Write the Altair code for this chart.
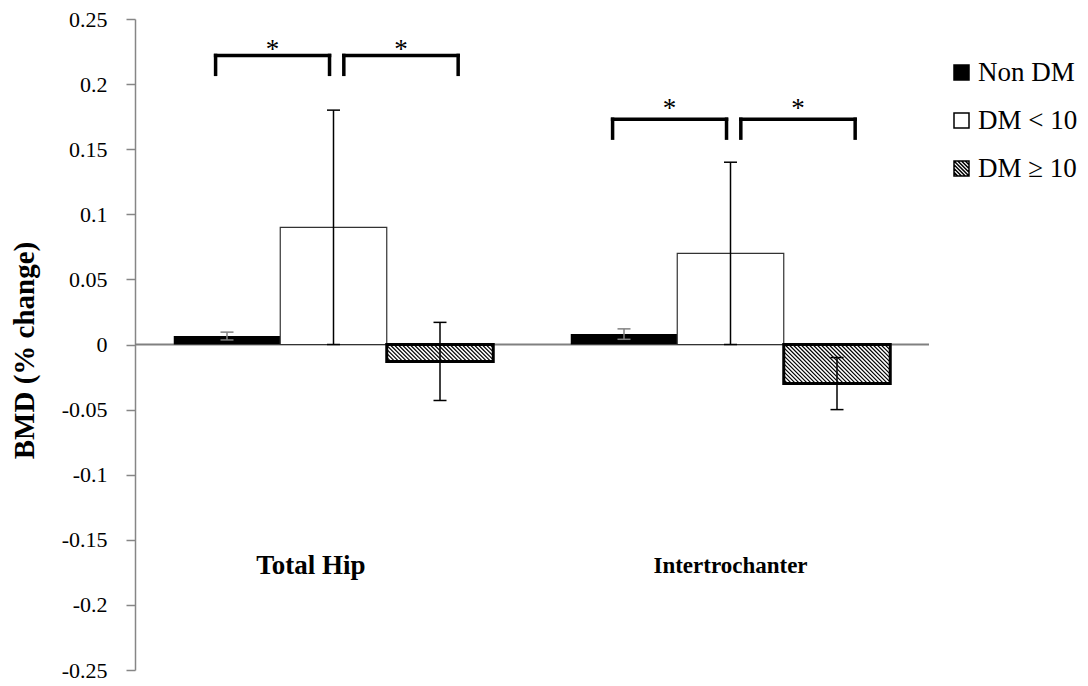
import altair as alt
import pandas as pd

# ---- data -------------------------------------------------------------
groups = ["Total Hip", "Intertrochanter"]
series = ["Non DM", "DM < 10", "DM \u2265 10"]

total_hip_mean = [0.0065, 0.090, -0.013]
total_hip_err = [0.003, 0.090, 0.030]
intertroch_mean = [0.008, 0.070, -0.030]
intertroch_err = [0.004, 0.070, 0.020]

y_ticks = [0.25, 0.2, 0.15, 0.1, 0.05, 0, -0.05, -0.1, -0.15, -0.2, -0.25]

# significance brackets: (pair of series compared), bracket height and star height per group
sig_pairs = [(0, 1), (1, 2)]
bracket_level = [0.222, 0.173]
star_level = [0.231, 0.1855]

# ---- layout -----------------------------------------------------------
W, H = 794, 651
X_DOM = [0, 2]
Y_DOM = [-0.25, 0.25]
PX_X = W / (X_DOM[1] - X_DOM[0])
PX_Y = H / (Y_DOM[1] - Y_DOM[0])
BAR_W = 106.5 / PX_X
CAP = 6.5 / PX_X
LEG = 0.0145
SERIF = "Liberation Serif"
# bracket ends relative to the group centre
bracket_span = [(-0.297, -0.010), (0.026, 0.314)]
label_x = [0.443, 1.5]
label_y = -0.1705

means = [total_hip_mean, intertroch_mean]
errs = [total_hip_err, intertroch_err]

rows = []
for gi, g in enumerate(groups):
    for si, s in enumerate(series):
        x0 = gi + 0.5 + (si - 1.5) * BAR_W
        xc = x0 + BAR_W / 2
        m, e = means[gi][si], errs[gi][si]
        rows.append(dict(group=g, series=s, mean=m, err=e, zero=0.0,
                         x0=x0, x1=x0 + BAR_W, xc=xc,
                         lo=m - e, hi=m + e, c0=xc - CAP, c1=xc + CAP))
bars = pd.DataFrame(rows)

# diagonal hatching for the DM >= 10 bars, clipped to each bar
hatch = []
SP = 4.0
for r in rows:
    if r["series"] != series[2]:
        continue
    wp = BAR_W * PX_X
    hp = -r["mean"] * PX_Y
    c = -hp
    while c < wp:
        u0, u1 = max(0.0, c), min(wp, c + hp)
        if u1 > u0:
            hatch.append(dict(hx0=r["x0"] + u0 / PX_X, hx1=r["x0"] + u1 / PX_X,
                              hy0=-(u0 - c) / PX_Y, hy1=-(u1 - c) / PX_Y))
        c += SP
hatch = pd.DataFrame(hatch)

segs, stars = [], []
for gi in range(len(groups)):
    top = bracket_level[gi]
    for (a, b), (dl, dr) in zip(sig_pairs, bracket_span):
        xl, xr = gi + 0.5 + dl, gi + 0.5 + dr
        segs += [dict(sx0=xl, sx1=xr, sy0=top, sy1=top),
                 dict(sx0=xl, sx1=xl, sy0=top, sy1=top - LEG),
                 dict(sx0=xr, sx1=xr, sy0=top, sy1=top - LEG)]
        stars.append(dict(tx=(xl + xr) / 2, ty=star_level[gi], t="*"))
segs = pd.DataFrame(segs)
stars = pd.DataFrame(stars)

labels = pd.DataFrame(dict(lx=label_x, ly=[label_y] * 2, name=groups))
baseline = pd.DataFrame(dict(bx0=[X_DOM[0]], bx1=[X_DOM[1]], by=[0.0]))

# ---- encodings ----------------------------------------------------------
XS = alt.Scale(domain=X_DOM, nice=False, zero=False)
YS = alt.Scale(domain=Y_DOM, nice=False, zero=False)
YAX = alt.Axis(values=y_ticks, title="BMD (% change)", grid=False,
               labelExpr="'' + datum.value",
               tickSize=9, tickWidth=1.5, tickColor="#868686",
               domainColor="#868686", domainWidth=1.5,
               labelFont=SERIF, labelFontSize=22, labelColor="black", labelPadding=19,
               titleFont=SERIF, titleFontSize=29, titleFontWeight="bold", titleColor="black",
               titleAngle=270, titleX=-111, titleY=331, titleAlign="center",
               titleBaseline="middle")


def xq(f):
    return alt.X(f"{f}:Q", scale=XS, axis=None)


def yq(f):
    return alt.Y(f"{f}:Q", scale=YS, axis=YAX)


zero_line = alt.Chart(baseline).mark_rule(color="#808080", strokeWidth=2).encode(
    x=xq("bx0"), x2="bx1", y=yq("by"))

base = alt.Chart(bars)
bar_non = base.transform_filter(alt.datum.series == series[0]).mark_bar(
    color="black").encode(x=xq("x0"), x2="x1", y=yq("mean"), y2="zero")
bar_lt = base.transform_filter(alt.datum.series == series[1]).mark_bar(
    fill="white", stroke="#333333", strokeWidth=1.2).encode(
    x=xq("x0"), x2="x1", y=yq("mean"), y2="zero")
bar_ge = base.transform_filter(alt.datum.series == series[2]).mark_bar(
    fill="white").encode(x=xq("x0"), x2="x1", y=yq("mean"), y2="zero")
hatch_lines = alt.Chart(hatch).mark_rule(color="black", strokeWidth=1.2).encode(
    x=xq("hx0"), x2="hx1", y=yq("hy0"), y2="hy1")
bar_ge_edge = base.transform_filter(alt.datum.series == series[2]).mark_bar(
    fill="transparent", stroke="black", strokeWidth=3).encode(
    x=xq("x0"), x2="x1", y=yq("mean"), y2="zero")

err_color = alt.condition(alt.datum.series == series[0], alt.value("#808080"), alt.value("black"))
err_stem = base.mark_rule(strokeWidth=1.5).encode(
    x=xq("xc"), y=yq("lo"), y2="hi", color=err_color)
cap_hi = base.mark_rule(strokeWidth=1.5).encode(
    x=xq("c0"), x2="c1", y=yq("hi"), color=err_color)
cap_lo = base.mark_rule(strokeWidth=1.5).encode(
    x=xq("c0"), x2="c1", y=yq("lo"), color=err_color)

brackets = alt.Chart(segs).mark_rule(color="black", strokeWidth=3.5, strokeCap="square").encode(
    x=xq("sx0"), x2="sx1", y=yq("sy0"), y2="sy1")
star_text = alt.Chart(stars).mark_text(font=SERIF, fontSize=27, color="black", dy=6).encode(
    x=xq("tx"), y=yq("ty"), text="t:N")
group_text = alt.Chart(labels).mark_text(font=SERIF, fontWeight="bold",
                                          color="black", baseline="middle").encode(
    x=xq("lx"), y=yq("ly"), text="name:N",
    size=alt.condition(alt.datum.name == groups[0], alt.value(27), alt.value(23)))

# legend built from an invisible point layer carrying fill, stroke and shape
hatch_path = ("M-1,-1H1V1H-1Z M-1,-1L1,1 M-0.5,-1L1,0.5 M0,-1L1,0 M0.5,-1L1,-0.5 "
              "M-1,-0.5L0.5,1 M-1,0L0,1 M-1,0.5L-0.5,1")
square = "M-1,-1H1V1H-1Z"
LEGEND = alt.Legend(title=None, orient="none", legendX=813, legendY=40, padding=0,
                    labelFont=SERIF, labelFontSize=27, labelColor="black", labelOffset=3,
                    symbolSize=225, symbolStrokeWidth=1.5,
                    symbolOpacity=1, rowPadding=20)
legend_layer = alt.Chart(pd.DataFrame(dict(series=series))).mark_point(
    filled=True, opacity=0, size=225, strokeWidth=1.5).encode(
    fill=alt.Fill("series:N", scale=alt.Scale(domain=series, range=["black", "white", "white"]),
                  legend=LEGEND),
    stroke=alt.Stroke("series:N", scale=alt.Scale(domain=series, range=["black", "black", "black"]),
                      legend=LEGEND),
    shape=alt.Shape("series:N", scale=alt.Scale(domain=series, range=[square, square, hatch_path]),
                    legend=LEGEND))

chart = alt.layer(
    zero_line, bar_non, bar_lt, bar_ge, hatch_lines, bar_ge_edge,
    err_stem, cap_hi, cap_lo, brackets, star_text, group_text, legend_layer
).properties(
    width=W, height=H,
    padding={"left": 135, "top": 19, "right": 159, "bottom": 16},
    autosize=alt.AutoSizeParams(type="none"),
    background="white",
).configure_view(stroke=None)

chart.save("out.html", embed_options={"renderer": "svg", "actions": False})
